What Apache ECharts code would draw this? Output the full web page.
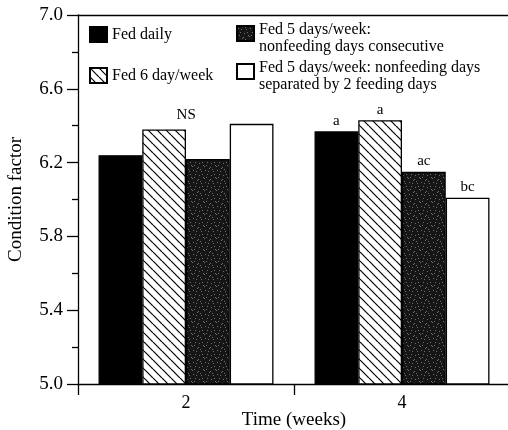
<!DOCTYPE html>
<html>
<head>
<meta charset="utf-8">
<script src="https://cdn.jsdelivr.net/npm/echarts@6/dist/echarts.min.js"></script>
<style>
  html, body { margin: 0; padding: 0; background: #fff; }
  #chart { width: 508px; height: 430px; }
</style>
</head>
<body>
<div id="chart"></div>
<script>
// Condition factor by feeding schedule at 2 and 4 weeks
const weeks = ['2', '4'];
const seriesNames = [
  'Fed daily',
  'Fed 6 day/week',
  'Fed 5 days/week: nonfeeding days consecutive',
  'Fed 5 days/week: nonfeeding days separated by 2 feeding days'
];
const legendLines = [
  ['Fed daily'],
  ['Fed 6 day/week'],
  ['Fed 5 days/week:', 'nonfeeding days consecutive'],
  ['Fed 5 days/week: nonfeeding days', 'separated by 2 feeding days']
];
const fedDaily   = [6.24, 6.37];
const fedSixDay  = [6.38, 6.43];
const fedFiveCon = [6.22, 6.15];
const fedFiveSep = [6.41, 6.01];
// significance letters above each bar, and the per-week group note
const sigDaily   = ['', 'a'];
const sigSixDay  = ['', 'a'];
const sigFiveCon = ['', 'ac'];
const sigFiveSep = ['', 'bc'];
const groupNote  = ['NS', ''];
const yTicks = [5.0, 5.4, 5.8, 6.2, 6.6, 7.0];

const SERIF = '"Liberation Serif", "DejaVu Serif", serif';

// diagonal hatching (top-left to bottom-right)
function hatchPattern() {
  const s = 9;
  const c = document.createElement('canvas');
  c.width = s; c.height = s;
  const g = c.getContext('2d');
  g.fillStyle = '#fff';
  g.fillRect(0, 0, s, s);
  g.strokeStyle = '#000';
  g.lineWidth = 1.2;
  for (let k = -1; k <= 1; k++) {
    g.beginPath();
    g.moveTo(k * s, 0);
    g.lineTo(k * s + s, s);
    g.stroke();
  }
  return c;
}

// dark fill with light grey speckle
function speckPattern() {
  const s = 12;
  const c = document.createElement('canvas');
  c.width = s; c.height = s;
  const g = c.getContext('2d');
  g.fillStyle = '#161616';
  g.fillRect(0, 0, s, s);
  const dots = [[1,2],[5,0],[9,3],[3,6],[7,7],[11,9],[0,10],[6,11],[4,3],[10,6],[2,9],[8,1]];
  g.fillStyle = '#6e6e6e';
  dots.forEach(([x, y]) => g.fillRect(x, y, 1, 1));
  return c;
}

const fills = [
  '#000',
  { image: hatchPattern(), repeat: 'repeat' },
  { image: speckPattern(), repeat: 'repeat' },
  '#fff'
];
const values = [fedDaily, fedSixDay, fedFiveCon, fedFiveSep];
const sigs = [sigDaily, sigSixDay, sigFiveCon, sigFiveSep];

const series = values.map((vals, si) => ({
  name: seriesNames[si],
  type: 'bar',
  xAxisIndex: 0,
  barGap: '0%',
  barCategoryGap: '19%',
  itemStyle: { color: fills[si], borderColor: '#000', borderWidth: 1.3 },
  label: {
    show: true,
    position: 'top',
    distance: 3,
    color: '#000',
    fontFamily: SERIF,
    fontSize: 15,
    formatter: (p) => sigs[si][p.dataIndex]
  },
  data: vals.map((v, i) => {
    const d = { value: v };
    if (si === 1 && groupNote[i]) {
      d.label = {
        show: true,
        formatter: groupNote[i],
        offset: [22, 0],
        distance: 7,
        fontSize: 15
      };
    }
    return d;
  })
}));

// one legend block per entry, arranged in two columns
const legendPos = [
  { left: 89, top: 26 },
  { left: 89, top: 67 },
  { left: 236, top: 13.5 },
  { left: 236, top: 51.5 }
];
const legends = seriesNames.map((name, i) => {
  const lines = legendLines[i];
  // two-line entries: a thin invisible spacer line on top so the box sits beside line one
  const text = lines.length > 1
    ? '{s|.}\n' + lines.map((l) => '{t|' + l + '}').join('\n')
    : '{t|' + lines[0] + '}';
  return {
    data: [name],
    left: legendPos[i].left,
    top: legendPos[i].top,
    orient: 'vertical',
    padding: 0,
    itemWidth: 17,
    itemHeight: 15,
    selectedMode: false,
    icon: 'rect',
    formatter: () => text,
    textStyle: {
      color: '#000',
      fontFamily: SERIF,
      fontSize: 16,
      rich: {
        s: { color: 'rgba(0,0,0,0)', fontFamily: SERIF, fontSize: 6, lineHeight: 10 },
        t: { color: '#000', fontFamily: SERIF, fontSize: 16, lineHeight: 17 }
      }
    }
  };
});

const chart = echarts.init(document.getElementById('chart'), null, { renderer: 'canvas' });
chart.setOption({
  animation: false,
  backgroundColor: '#fff',
  grid: { left: 78, top: 15, width: 432, height: 369, outerBoundsMode: 'none', containLabel: false },
  legend: legends,
  xAxis: [
    {
      type: 'category',
      data: weeks,
      position: 'bottom',
      name: 'Time (weeks)',
      nameLocation: 'middle',
      nameGap: 27,
      nameMoveOverlap: false,
      nameTextStyle: { color: '#000', fontFamily: SERIF, fontSize: 19 },
      axisLine: { lineStyle: { color: '#000', width: 1.3 } },
      axisTick: { show: true, length: 11, lineStyle: { color: '#000', width: 1.3 } },
      axisLabel: { color: '#000', fontFamily: SERIF, fontSize: 18, margin: 10 },
      splitLine: { show: false }
    },
    {
      // upper frame line
      type: 'category',
      data: weeks,
      position: 'top',
      axisLine: { show: true, lineStyle: { color: '#000', width: 1.3 } },
      axisTick: { show: false },
      axisLabel: { show: false },
      splitLine: { show: false }
    }
  ],
  yAxis: {
    type: 'value',
    min: 5.0,
    max: 7.0,
    interval: 0.4,
    name: 'Condition factor',
    nameLocation: 'middle',
    nameGap: 52,
    nameMoveOverlap: false,
    nameTextStyle: { color: '#000', fontFamily: SERIF, fontSize: 19 },
    axisLine: { show: true, lineStyle: { color: '#000', width: 1.3 } },
    axisTick: { show: true, length: 11, lineStyle: { color: '#000', width: 1.3 } },
    minorTick: { show: true, splitNumber: 2, length: 6, lineStyle: { color: '#000', width: 1.3 } },
    axisLabel: {
      color: '#000', fontFamily: SERIF, fontSize: 19, margin: 15,
      formatter: (v) => {
        const t = yTicks.find((y) => Math.abs(y - v) < 1e-6);
        return t !== undefined ? t.toFixed(1) : '';
      }
    },
    splitLine: { show: false }
  },
  series: series
});
</script>
</body>
</html>
